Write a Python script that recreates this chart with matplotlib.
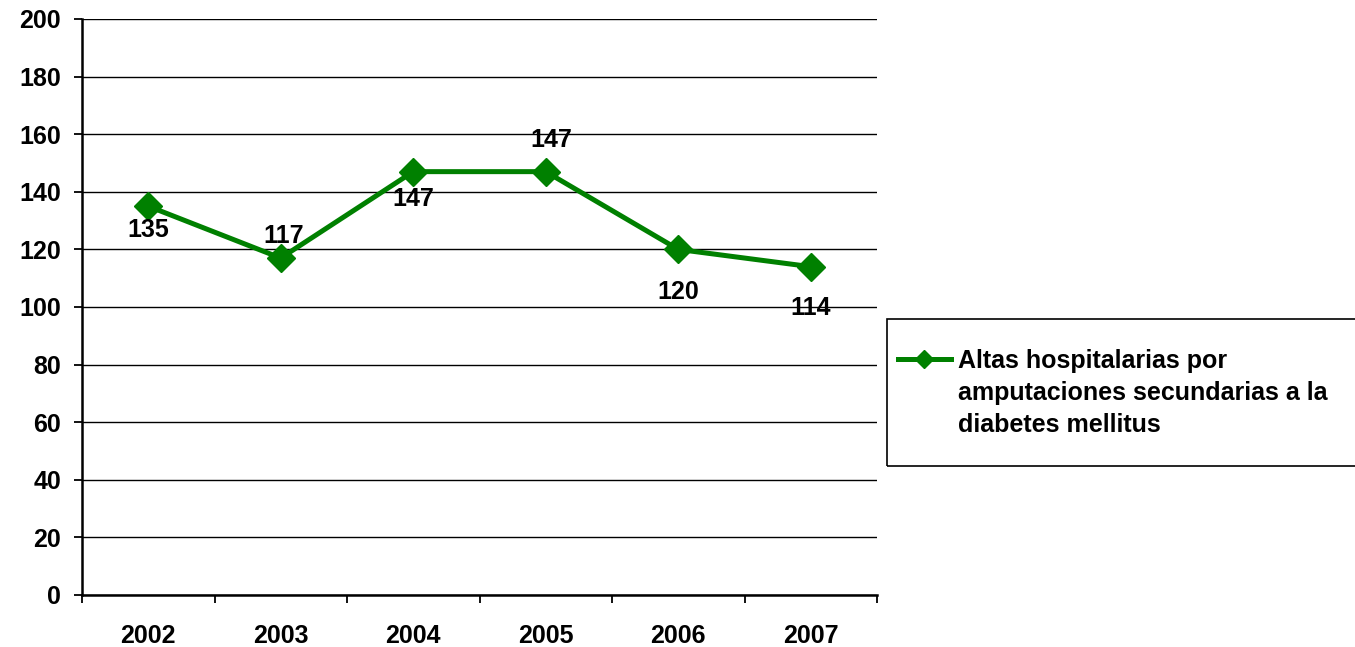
import matplotlib.pyplot as plt
from matplotlib.patches import Rectangle
from matplotlib.ticker import FixedLocator

# data
years = ["2002", "2003", "2004", "2005", "2006", "2007"]
altas = [135, 117, 147, 147, 120, 114]
# label offsets (points) relative to each marker
label_dx = [0, 2, 0, 4, 0, 0]
label_dy = [-17, 16, -20, 23, -31, -30]

series_lines = ["Altas hospitalarias por",
                "amputaciones secundarias a la",
                "diabetes mellitus"]
GREEN = "#008000"
FS = 18
W, H = 1355, 647

plt.rcParams["font.family"] = ["Liberation Sans", "DejaVu Sans"]
plt.rcParams["font.weight"] = "bold"

fig = plt.figure(figsize=(W / 100, H / 100), dpi=100)
ax = fig.add_axes([82 / W, 52 / H, 795 / W, 576 / H])

x = list(range(len(years)))
line, = ax.plot(x, altas, color=GREEN, linewidth=3.6, marker="D",
                markersize=14, markerfacecolor=GREEN, markeredgecolor=GREEN,
                label=series_lines[0], zorder=3)

for xi, v, dx, dy in zip(x, altas, label_dx, label_dy):
    ax.annotate(f"{v}", (xi, v), textcoords="offset points", xytext=(dx, dy),
                ha="center", va="center", fontsize=FS, fontweight="bold",
                zorder=4)

ax.set_xlim(-0.5, len(years) - 0.5)
ax.set_ylim(0, 200)
ax.set_yticks(range(0, 201, 20))
ax.yaxis.grid(True, color="black", linewidth=1.0)
ax.set_axisbelow(True)

# x ticks: marks at category edges, labels at centers
ax.xaxis.set_major_locator(FixedLocator([i - 0.5 for i in range(len(years) + 1)]))
ax.xaxis.set_minor_locator(FixedLocator(x))
ax.set_xticklabels([""] * (len(years) + 1))
ax.set_xticklabels(years, minor=True)
ax.tick_params(axis="x", which="major", length=6, width=1.3, direction="out")
ax.tick_params(axis="x", which="minor", length=0, pad=21, labelsize=FS)
ax.tick_params(axis="y", length=6, width=1.3, pad=9, labelsize=FS)
for lab in ax.get_xticklabels(minor=True) + ax.get_yticklabels():
    lab.set_fontweight("bold")

ax.spines["top"].set_visible(False)
ax.spines["right"].set_visible(False)
ax.spines["left"].set_linewidth(1.8)
ax.spines["bottom"].set_linewidth(1.8)

# legend box (frame drawn separately so it runs off the right edge)
fig.patches.append(Rectangle((887 / W, 1 - 466 / H), 480 / W, 147 / H,
                             transform=fig.transFigure, fill=False,
                             edgecolor="black", linewidth=1.2))
leg = fig.legend(handles=[line], loc="center left",
                 bbox_to_anchor=(898 / W, 1 - 361 / H),
                 frameon=False, fontsize=FS,
                 handlelength=2.1, handletextpad=0.3,
                 borderpad=0, borderaxespad=0, markerscale=0.65)
for t in leg.get_texts():
    t.set_fontweight("bold")

# remaining lines of the series name, below the legend entry
fig.canvas.draw()
bb = leg.get_texts()[0].get_window_extent()
for i, s in enumerate(series_lines[1:], start=1):
    fig.text(bb.x0 / W, (bb.y1 - 32 * i) / H, s, ha="left", va="top",
             fontsize=FS, fontweight="bold")

fig.savefig("out.png", dpi=100)
